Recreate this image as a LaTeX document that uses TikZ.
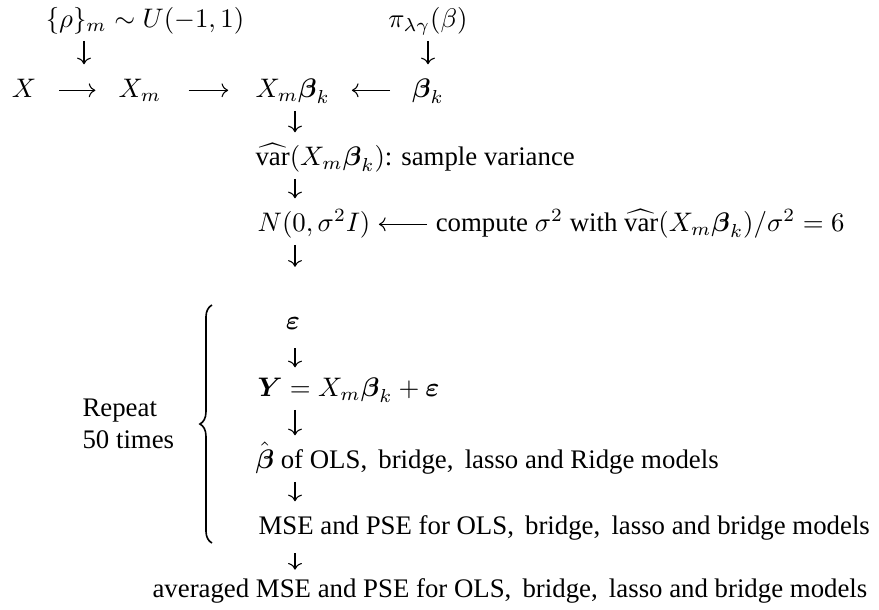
\documentclass[tikz,border=0pt]{standalone}
\usepackage{amsmath,amssymb}
\usepackage{fontspec}
\setmainfont{Liberation Serif}
\usetikzlibrary{positioning,decorations.pathreplacing,arrows.meta}

\begin{document}
\begin{tikzpicture}[>={Computer Modern Rightarrow}, x=0.373pt, y=-0.373pt,
    item/.style={inner sep=0pt, text height=7pt, text depth=2pt},
    flow/.style={->, shorten <=3pt, shorten >=5pt}]
    \useasboundingbox (0,0) rectangle (879,609);

    % Sources of rho and beta
    \node[item, anchor=base] (rho) at (145,27) {$\{\rho\}_m\sim U(-1,1)$};
    \node[item, anchor=base] (pi) at (428,27) {$\pi_{\lambda\gamma}(\beta)$};

    % Main row
    \node[item, anchor=base] (X) at (24,97) {$X$};
    \node[item, anchor=base] (Xm) at (140,97) {$X_m$};
    \node[item, anchor=base west] (XmBk) at (255,97) {$X_m\boldsymbol{\beta}_k$};
    \node[item, anchor=base] (bk) at (428,97) {$\boldsymbol{\beta}_k$};
    \coordinate (m1) at (84,97);
    \coordinate (col) at (295,0);

    \draw[->, shorten <=8.5pt, shorten >=8.5pt] (X) -- (Xm);
    \draw[->, shorten <=10pt, shorten >=10pt] (Xm) -- (XmBk);
    \draw[->, shorten <=8pt, shorten >=8pt] (bk) -- (XmBk);
    \draw[flow] (rho.south -| m1) -- (Xm.north -| m1);
    \draw[flow] (pi) -- (bk);

    % Noise level
    \node[item, anchor=base west] (var) at (255,165)
        {$\widehat{\mathrm{var}}(X_m\boldsymbol{\beta}_k)$: sample variance};
    \node[item, anchor=base west] (N) at (257,231) {$N(0,\sigma^2 I)$};
    \node[item, right=24pt of N] (comp)
        {compute $\sigma^2$ with $\widehat{\mathrm{var}}(X_m\boldsymbol{\beta}_k)/\sigma^2=6$};

    \draw[flow] (XmBk.south -| col) -- (var.north -| col);
    \draw[flow] (var.south -| col) -- (N.north -| col);
    \draw[->, shorten <=3pt, shorten >=3pt] (comp) -- (N);

    % Repeated block
    \node[item, anchor=base] (eps) at (293,329) {$\boldsymbol{\varepsilon}$};
    \node[item, anchor=base west] (Y) at (257,396)
        {$\boldsymbol{Y}=X_m\boldsymbol{\beta}_k+\boldsymbol{\varepsilon}$};
    \node[item, anchor=base west] (bhat) at (255,468)
        {$\hat{\boldsymbol{\beta}}$ of OLS,\,\ bridge,\,\ lasso and Ridge models};
    \node[item, anchor=base west] (mse) at (258,534)
        {MSE and PSE for OLS,\,\ bridge,\,\ lasso and bridge models};
    \node[item, anchor=base west] (avg) at (152,597)
        {averaged MSE and PSE for OLS,\,\ bridge,\,\ lasso and bridge models};

    \draw[->, shorten <=3pt, shorten >=16pt] (N.south -| col) -- (eps.north -| col);
    \draw[->, shorten <=5pt, shorten >=3.5pt] (eps.south -| col) -- (Y.north -| col);
    \draw[flow] (Y.south -| col) -- (bhat.north -| col);
    \draw[flow] (bhat.south -| col) -- (mse.north -| col);
    \draw[->, shorten <=5pt, shorten >=3pt] (mse.south -| col) -- (avg.north -| col);

    % Brace
    \node[align=left, anchor=west, inner sep=0pt] (rep) at (82,424) {Repeat\\50 times};
    \coordinate (bb) at (212,543);
    \coordinate (bt) at (212,305);
    \draw[line width=0.6pt, decorate, decoration={brace, amplitude=4.5pt}] (bb) -- (bt);
\end{tikzpicture}
\end{document}
